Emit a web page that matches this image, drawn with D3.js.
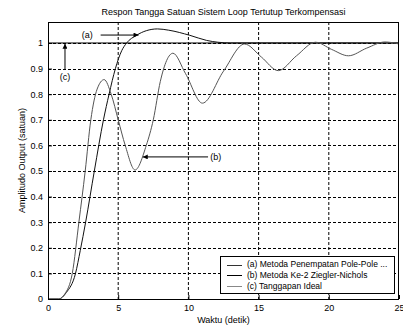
<!DOCTYPE html>
<html>
<head>
<meta charset="utf-8">
<script src="https://cdn.jsdelivr.net/npm/d3@7"></script>
<style>
  body { margin: 0; background: #fff; }
  svg { font-family: "Liberation Sans", Arial, sans-serif; }
</style>
</head>
<body>
<div id="chart"></div>
<script>
// data
var xTicks = [0, 5, 10, 15, 20, 25];
var yTicks = [0, 0.1, 0.2, 0.3, 0.4, 0.5, 0.6, 0.7, 0.8, 0.9, 1];

// (a) Metoda Penempatan Pole-Pole
var tA = [0, 0.75, 1.3, 1.96, 2.3, 2.68, 3.3, 3.95, 4.35, 4.8, 5.25, 5.6, 6.3, 7.0, 7.8, 8.6, 10.1, 11.3, 12.1, 13, 25];
var yA = [0, 0, 0.025, 0.1, 0.19, 0.3, 0.5, 0.7, 0.8, 0.9, 0.97, 1.0, 1.03, 1.048, 1.055, 1.05, 1.03, 1.01, 1.003, 1.0, 1.0];

// (b) Metoda Ke-2 Ziegler-Nichols
var tB = [0, 0.75, 1.2, 1.73, 2.2, 2.65, 3.05, 3.5, 4.0, 4.5, 5.0, 5.5, 6.2, 7.0, 7.5, 8.0, 8.9, 9.8, 11.0, 12.5, 14.0, 15.2, 16.4, 17.7, 19.05, 20.2, 21.4, 22.7, 24.0, 25];
var yB = [0, 0, 0.02, 0.1, 0.3, 0.5, 0.7, 0.82, 0.857, 0.8, 0.7, 0.6, 0.504, 0.6, 0.7, 0.85, 0.96, 0.88, 0.765, 0.89, 0.996, 0.945, 0.892, 0.95, 1.003, 0.975, 0.95, 0.98, 1.004, 0.996];

// (c) Tanggapan Ideal
var tC = [0, 25];
var yC = [1, 1];

var legendLabels = ["(a) Metoda Penempatan Pole-Pole ...", "(b) Metoda Ke-2 Ziegler-Nichols", "(c) Tanggapan Ideal"];

var svgWidth = 403, svgHeight = 327;
var margin = { top: 22, right: 4, bottom: 28, left: 48 };
var width = svgWidth - margin.left - margin.right;
var height = svgHeight - margin.top - margin.bottom;

var svg = d3.select("#chart").append("svg")
    .attr("width", svgWidth)
    .attr("height", svgHeight);

var chartGroup = svg.append("g")
    .attr("transform", `translate(${margin.left},${margin.top})`);

var xScale = d3.scaleLinear().domain([0, 25]).range([0, width]);
var yScale = d3.scaleLinear().domain([0, 1.082]).range([height, 0]);

// white plot area
chartGroup.append("rect")
    .attr("width", width).attr("height", height)
    .attr("fill", "#fff");

// grid
chartGroup.selectAll(".vgrid")
    .data(xTicks.slice(1, -1))
    .enter().append("line")
    .attr("x1", d => xScale(d)).attr("x2", d => xScale(d))
    .attr("y1", 0).attr("y2", height)
    .attr("stroke", "#000").attr("stroke-width", 1)
    .attr("stroke-dasharray", "3,2");
chartGroup.selectAll(".hgrid")
    .data(yTicks.slice(1))
    .enter().append("line")
    .attr("x1", 0).attr("x2", width)
    .attr("y1", d => Math.round(yScale(d)) + 0.5).attr("y2", d => Math.round(yScale(d)) + 0.5)
    .attr("stroke", "#000").attr("stroke-width", 1)
    .attr("stroke-dasharray", "3,2");

// axes
var xAxis = d3.axisBottom(xScale).tickValues(xTicks).tickSize(-4).tickPadding(6).tickFormat(d3.format("d"));
var yAxis = d3.axisLeft(yScale).tickValues(yTicks).tickSize(-4).tickPadding(5).tickFormat(d => d === 0 || d === 1 ? d : d3.format(".1f")(d));

var gx = chartGroup.append("g").attr("transform", `translate(0,${height})`).call(xAxis);
var gy = chartGroup.append("g").call(yAxis);
[gx, gy].forEach(function(g) {
    g.select(".domain").remove();
    g.selectAll("text").style("font-size", "9px").attr("fill", "#000");
});

// curves
var line = d3.line()
    .x(d => xScale(d[0]))
    .y(d => yScale(d[1]))
    .curve(d3.curveMonotoneX);

var series = [
    { t: tC, y: yC, color: "#000" },
    { t: tA, y: yA, color: "#111" },
    { t: tB, y: yB, color: "#555" }
];
series.forEach(function(s) {
    chartGroup.append("path")
        .datum(d3.zip(s.t, s.y))
        .attr("fill", "none")
        .attr("stroke", s.color)
        .attr("stroke-width", 1)
        .attr("d", line);
});

// box
chartGroup.append("rect")
    .attr("x", 0.5).attr("y", 0.5)
    .attr("width", width - 1).attr("height", height)
    .attr("fill", "none").attr("stroke", "#000");

// annotations
var defs = svg.append("defs");
defs.append("marker")
    .attr("id", "head")
    .attr("viewBox", "0 0 10 10")
    .attr("refX", 10).attr("refY", 5)
    .attr("markerWidth", 7).attr("markerHeight", 5)
    .attr("orient", "auto")
    .attr("markerUnits", "userSpaceOnUse")
    .append("path").attr("d", "M0,0L10,5L0,10Z").attr("fill", "#000");

function arrow(t1, v1, t2, v2) {
    chartGroup.append("line")
        .attr("x1", xScale(t1)).attr("y1", yScale(v1))
        .attr("x2", xScale(t2)).attr("y2", yScale(v2))
        .attr("stroke", "#000").attr("marker-end", "url(#head)");
}
function note(t, v, txt, anchor) {
    chartGroup.append("text")
        .attr("x", xScale(t)).attr("y", yScale(v))
        .attr("dy", "0.35em")
        .attr("text-anchor", anchor)
        .style("font-size", "9px")
        .text(txt);
}
note(2.4, 1.031, "(a)", "start");
arrow(3.75, 1.031, 6.45, 1.031);
note(1.21, 0.866, "(c)", "middle");
arrow(1.21, 0.895, 1.21, 0.997);
note(11.55, 0.555, "(b)", "start");
arrow(11.4, 0.555, 6.75, 0.555);

// legend
var legend = chartGroup.append("g").attr("transform", "translate(172,234)");
legend.append("rect")
    .attr("x", 0.5).attr("y", 0.5)
    .attr("width", 174).attr("height", 37)
    .attr("fill", "#fff").attr("stroke", "#000");
var legendColors = ["#333", "#000", "#888"];
legendLabels.forEach(function(lbl, i) {
    var y = 8.5 + i * 10.8;
    legend.append("line")
        .attr("x1", 7).attr("x2", 22)
        .attr("y1", Math.round(y) + 0.5).attr("y2", Math.round(y) + 0.5)
        .attr("stroke", legendColors[i]);
    legend.append("text")
        .attr("x", 27).attr("y", y).attr("dy", "0.35em")
        .style("font-size", "8.5px")
        .text(lbl);
});

// titles
svg.append("text")
    .attr("x", margin.left + width / 2).attr("y", 12).attr("dy", "0.35em")
    .attr("text-anchor", "middle")
    .style("font-size", "9px")
    .text("Respon Tangga Satuan Sistem Loop Tertutup Terkompensasi");
svg.append("text")
    .attr("x", margin.left + width / 2).attr("y", 320).attr("dy", "0.35em")
    .attr("text-anchor", "middle")
    .style("font-size", "9px")
    .text("Waktu (detik)");
svg.append("text")
    .attr("transform", `translate(22,${margin.top + height / 2}) rotate(-90)`)
    .attr("dy", "0.35em")
    .attr("text-anchor", "middle")
    .style("font-size", "9px")
    .text("Amplitudo Output (satuan)");
</script>
</body>
</html>
